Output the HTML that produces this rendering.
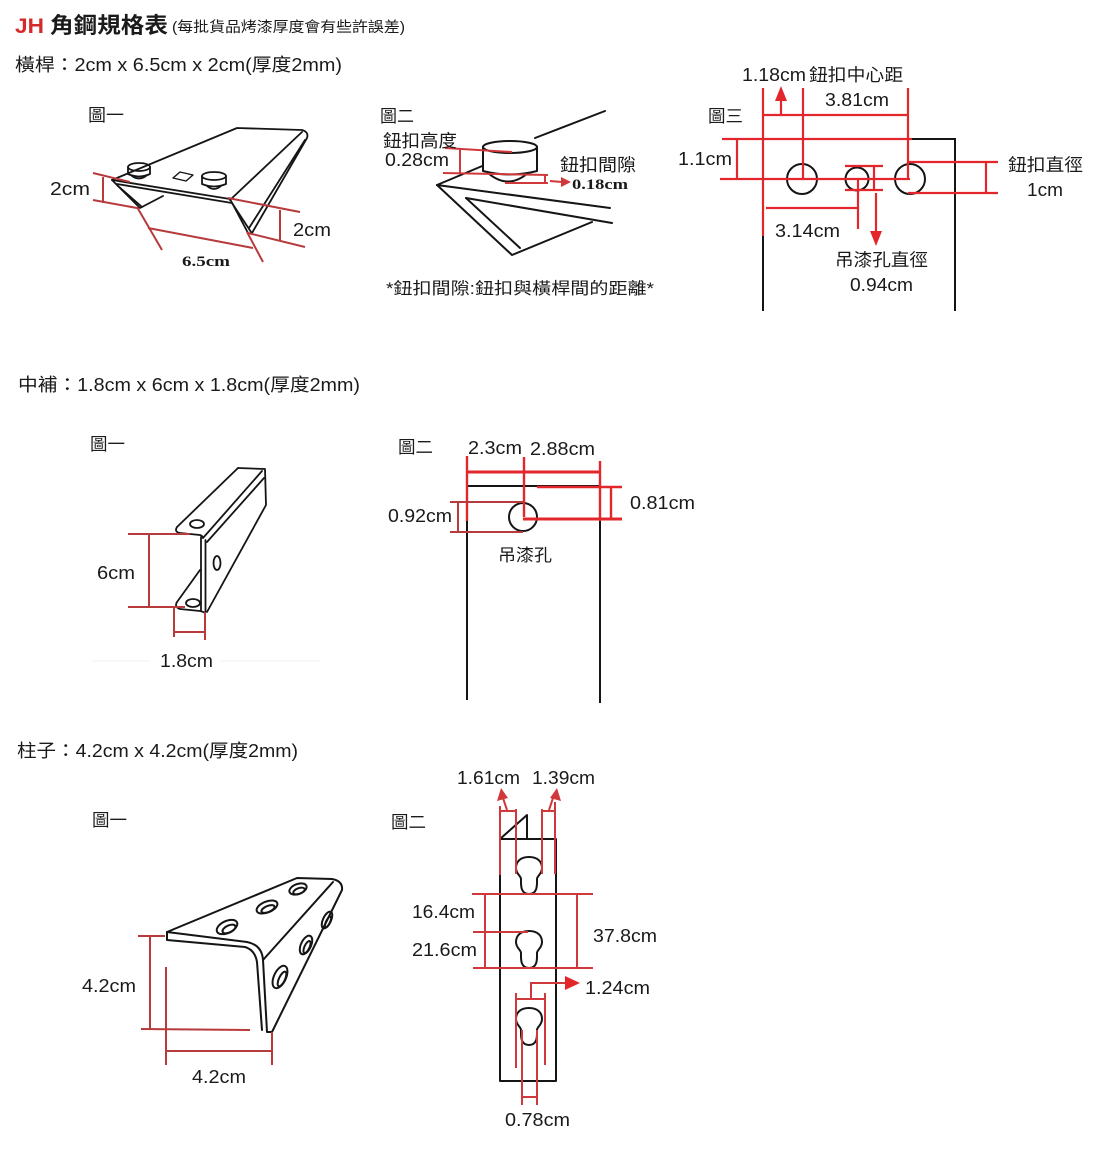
<!DOCTYPE html>
<html><head><meta charset="utf-8"><style>
html,body{margin:0;padding:0;background:#fff;}
svg{display:block}
text{font-family:"Liberation Sans","Noto Sans CJK TC",sans-serif;fill:#1a1a1a;}
</style></head><body>
<svg width="1101" height="1151" viewBox="0 0 1101 1151" xmlns="http://www.w3.org/2000/svg">
<rect width="1101" height="1151" fill="#fff"/>

<!-- ===== HEADER ===== -->
<text x="15" y="33" font-size="21" font-weight="bold" style="fill:#d42a2a" textLength="29" lengthAdjust="spacingAndGlyphs">JH</text>
<text x="50" y="33" font-size="22" font-weight="bold" textLength="118" lengthAdjust="spacingAndGlyphs">角鋼規格表</text>
<text x="172" y="32" font-size="14.5" textLength="233" lengthAdjust="spacingAndGlyphs">(每批貨品烤漆厚度會有些許誤差)</text>

<text x="15" y="71" font-size="18" textLength="327" lengthAdjust="spacingAndGlyphs">橫桿：2cm x 6.5cm x 2cm(厚度2mm)</text>

<!-- ===== TOP FIG 1 ===== -->
<text x="88" y="121" font-size="17" textLength="36" lengthAdjust="spacingAndGlyphs">圖一</text>
<g stroke="#151515" stroke-width="1.8" fill="none" stroke-linejoin="round" stroke-linecap="round">
  <path d="M112,180 L237,128 L302,130 Q309,132 307,138 L252,233"/>
  <path d="M302,132 L230,200"/>
  <path d="M305,140 L249,228"/>
  <path d="M112,180 L230,199 L248,233"/>
  <path d="M117,184 L232,203 L251,232"/>
  <path d="M112,180 L140,208 L163,196"/>
  <path d="M118,186 L142,207"/>
  <ellipse cx="139" cy="167" rx="11" ry="4"/>
  <path d="M128,167 V174 Q139,179 150,174 V167"/>
  <path d="M132,176 Q139,181 146,176"/>
  <ellipse cx="214" cy="176" rx="12" ry="4"/>
  <path d="M202,176 V184 Q214,189 226,184 V176"/>
  <path d="M207,186 Q214,192 221,186"/>
  <polygon points="180,172 193,175 186,181 173,178" stroke-width="1.4"/>
</g>
<g stroke="#b73a3c" stroke-width="2" fill="none">
  <line x1="93" y1="173" x2="130" y2="182"/>
  <line x1="93" y1="200" x2="137" y2="208"/>
  <line x1="103" y1="177" x2="103" y2="203"/>
  <line x1="137" y1="207" x2="162" y2="250"/>
  <line x1="247" y1="232" x2="263" y2="262"/>
  <line x1="148" y1="228" x2="253" y2="248"/>
  <line x1="228" y1="198" x2="300" y2="212"/>
  <line x1="248" y1="233" x2="305" y2="247"/>
  <line x1="280" y1="210" x2="280" y2="240"/>
</g>
<text x="50" y="195" font-size="18" textLength="40" lengthAdjust="spacingAndGlyphs">2cm</text>
<text x="293" y="236" font-size="18" textLength="38" lengthAdjust="spacingAndGlyphs">2cm</text>
<text x="182" y="266" font-size="15" font-weight="bold" style="font-family:'Liberation Serif',serif" textLength="48" lengthAdjust="spacingAndGlyphs">6.5cm</text>

<!-- ===== TOP FIG 2 ===== -->
<text x="380" y="122" font-size="17" textLength="34" lengthAdjust="spacingAndGlyphs">圖二</text>
<g stroke="#151515" stroke-width="2" fill="none" stroke-linejoin="round" stroke-linecap="round">
  <line x1="535" y1="138" x2="605" y2="111"/>
  <path d="M437,185 L487,164"/>
  <path d="M437,185 L610,208"/>
  <path d="M437,185 L512,255 L592,222"/>
  <path d="M466,198 L612,223"/>
  <path d="M466,198 L520,248"/>
  <path d="M483,147 V171 Q510,178 537,171 V147" fill="#fff"/>
  <ellipse cx="510" cy="147" rx="27" ry="6" fill="#fff"/>
  <path d="M488,173 Q508,190 528,173"/>
</g>
<g stroke="#d0393b" stroke-width="2" fill="none">
  <line x1="445" y1="148" x2="512" y2="152"/>
  <line x1="443" y1="173" x2="548" y2="175"/>
  <line x1="460" y1="149" x2="460" y2="174"/>
  <line x1="505" y1="183" x2="548" y2="183"/>
  <line x1="545" y1="174" x2="545" y2="184"/>
  <line x1="550" y1="181" x2="562" y2="182"/>
</g>
<polygon points="571,182 561,177 561,187" fill="#d0393b"/>
<text x="383" y="147" font-size="17.5" textLength="74" lengthAdjust="spacingAndGlyphs">鈕扣高度</text>
<text x="385" y="166" font-size="18" textLength="64" lengthAdjust="spacingAndGlyphs">0.28cm</text>
<text x="560" y="171" font-size="17.5" textLength="76" lengthAdjust="spacingAndGlyphs">鈕扣間隙</text>
<text x="572" y="189" font-size="15" font-weight="bold" style="font-family:'Liberation Serif',serif" textLength="56" lengthAdjust="spacingAndGlyphs">0.18cm</text>
<text x="386" y="294" font-size="16.5" textLength="268" lengthAdjust="spacingAndGlyphs">*鈕扣間隙:鈕扣與橫桿間的距離*</text>

<!-- ===== TOP FIG 3 ===== -->
<text x="708" y="122" font-size="17" textLength="35" lengthAdjust="spacingAndGlyphs">圖三</text>
<g stroke="#151515" stroke-width="2" fill="none">
  <path d="M763,311 V139 H955 V311"/>
  <circle cx="802" cy="179" r="15"/>
  <circle cx="857" cy="179" r="11.5"/>
  <circle cx="910" cy="179" r="15"/>
</g>
<g stroke="#e3262b" stroke-width="2.2" fill="none">
  <line x1="763" y1="88" x2="763" y2="236"/>
  <line x1="803" y1="88" x2="803" y2="179"/>
  <line x1="908" y1="88" x2="908" y2="179"/>
  <line x1="763" y1="115" x2="908" y2="115"/>
  <line x1="781" y1="115" x2="781" y2="98"/>
  <line x1="722" y1="139" x2="912" y2="139"/>
  <line x1="720" y1="179" x2="910" y2="179"/>
  <line x1="737" y1="139" x2="737" y2="179"/>
  <line x1="845" y1="166" x2="883" y2="166"/>
  <line x1="845" y1="190" x2="883" y2="190"/>
  <line x1="874" y1="166" x2="874" y2="190"/>
  <line x1="876" y1="193" x2="876" y2="234"/>
  <line x1="766" y1="208" x2="858" y2="208"/>
  <line x1="858" y1="179" x2="858" y2="229"/>
  <line x1="908" y1="162" x2="998" y2="162"/>
  <line x1="908" y1="193" x2="998" y2="193"/>
  <line x1="986" y1="162" x2="986" y2="193"/>
</g>
<polygon points="781,86 775,101 787,101" fill="#e3262b"/>
<polygon points="876,246 870,231 882,231" fill="#e3262b"/>
<text x="742" y="81" font-size="18" textLength="64" lengthAdjust="spacingAndGlyphs">1.18cm</text>
<text x="809" y="81" font-size="17.5" textLength="94" lengthAdjust="spacingAndGlyphs">鈕扣中心距</text>
<text x="825" y="106" font-size="18" textLength="64" lengthAdjust="spacingAndGlyphs">3.81cm</text>
<text x="678" y="165" font-size="18" textLength="54" lengthAdjust="spacingAndGlyphs">1.1cm</text>
<text x="1008" y="171" font-size="17.5" textLength="75" lengthAdjust="spacingAndGlyphs">鈕扣直徑</text>
<text x="1027" y="196" font-size="18" textLength="36" lengthAdjust="spacingAndGlyphs">1cm</text>
<text x="775" y="237" font-size="18" textLength="65" lengthAdjust="spacingAndGlyphs">3.14cm</text>
<text x="835" y="266" font-size="17.5" textLength="93" lengthAdjust="spacingAndGlyphs">吊漆孔直徑</text>
<text x="850" y="291" font-size="18" textLength="63" lengthAdjust="spacingAndGlyphs">0.94cm</text>

<!-- ===== MIDDLE ===== -->
<text x="18" y="391" font-size="18" textLength="342" lengthAdjust="spacingAndGlyphs">中補：1.8cm x 6cm x 1.8cm(厚度2mm)</text>
<text x="90" y="450" font-size="17" textLength="35" lengthAdjust="spacingAndGlyphs">圖一</text>
<g stroke="#151515" stroke-width="1.8" fill="none" stroke-linejoin="round" stroke-linecap="round">
  <path d="M238,468 L265,469 L266,505 L207,612"/>
  <path d="M238,468 L177,527 Q174,532 180,533 L200,535 Q203,536 203,538"/>
  <path d="M262,471 L203,538"/>
  <path d="M264,478 L207,542"/>
  <ellipse cx="197" cy="524" rx="7" ry="4"/>
  <line x1="201" y1="537" x2="201" y2="610"/>
  <line x1="205.5" y1="540" x2="205.5" y2="612"/>
  <ellipse cx="217" cy="563" rx="3.5" ry="7"/>
  <path d="M200,570 L177,602 Q174,607 180,609 L200,611 Q204,612 205,613"/>
  <ellipse cx="193" cy="603" rx="7" ry="4"/>
</g>
<g stroke="#b73a3c" stroke-width="2" fill="none">
  <line x1="128" y1="534" x2="190" y2="534"/>
  <line x1="128" y1="607" x2="185" y2="607"/>
  <line x1="149" y1="534" x2="149" y2="607"/>
  <line x1="174" y1="607" x2="174" y2="637"/>
  <line x1="205" y1="612" x2="205" y2="640"/>
  <line x1="174" y1="632" x2="205" y2="632"/>
</g>
<line x1="92" y1="661" x2="150" y2="661" stroke="#f0f0f0" stroke-width="1"/>
<line x1="220" y1="661" x2="320" y2="661" stroke="#f0f0f0" stroke-width="1"/>
<text x="97" y="579" font-size="18" textLength="38" lengthAdjust="spacingAndGlyphs">6cm</text>
<text x="160" y="667" font-size="18" textLength="53" lengthAdjust="spacingAndGlyphs">1.8cm</text>

<text x="398" y="453" font-size="17" textLength="35" lengthAdjust="spacingAndGlyphs">圖二</text>
<g stroke="#151515" stroke-width="2" fill="none">
  <path d="M467,700 V486 H600 V703"/>
  <circle cx="523" cy="517" r="14"/>
</g>
<g stroke="#e3262b" stroke-width="2.4" fill="none">
  <line x1="467" y1="456" x2="467" y2="521"/>
  <line x1="524" y1="457" x2="524" y2="517"/>
  <line x1="600" y1="461" x2="600" y2="521"/>
  <line x1="467" y1="472" x2="601" y2="472" stroke-width="3"/>
  <line x1="537" y1="487" x2="622" y2="487"/>
  <line x1="523" y1="519" x2="622" y2="519" stroke-width="3"/>
  <line x1="611" y1="487" x2="611" y2="519"/>
</g>
<g stroke="#b73a3c" stroke-width="2" fill="none">
  <line x1="450" y1="502" x2="523" y2="502"/>
  <line x1="450" y1="532" x2="523" y2="532"/>
  <line x1="458" y1="502" x2="458" y2="532"/>
</g>
<text x="468" y="454" font-size="18" textLength="54" lengthAdjust="spacingAndGlyphs">2.3cm</text>
<text x="530" y="455" font-size="18" textLength="65" lengthAdjust="spacingAndGlyphs">2.88cm</text>
<text x="630" y="509" font-size="18" textLength="65" lengthAdjust="spacingAndGlyphs">0.81cm</text>
<text x="388" y="522" font-size="18" textLength="64" lengthAdjust="spacingAndGlyphs">0.92cm</text>
<text x="498" y="561" font-size="17" textLength="54" lengthAdjust="spacingAndGlyphs">吊漆孔</text>

<!-- ===== BOTTOM ===== -->
<text x="17" y="757" font-size="18" textLength="281" lengthAdjust="spacingAndGlyphs">柱子：4.2cm x 4.2cm(厚度2mm)</text>
<text x="92" y="826" font-size="17" textLength="35" lengthAdjust="spacingAndGlyphs">圖一</text>
<g stroke="#151515" stroke-width="2" fill="none" stroke-linejoin="round" stroke-linecap="round">
  <path d="M167,932 L297,878 L332,879 Q343,881 342,890 L272,1032"/>
  <path d="M333,882 L263,960"/>
  <path d="M167,932 L247,942 Q262,945 263,960 L267,1032 L272,1032"/>
  <path d="M167,932 L167,940 L245,947 Q255,950 257,962 L262,1030"/>
  <ellipse cx="227" cy="927" rx="11" ry="6" transform="rotate(-25 227 927)"/>
  <ellipse cx="229" cy="929" rx="7" ry="3.5" transform="rotate(-25 229 929)"/>
  <ellipse cx="267" cy="907" rx="11" ry="5.5" transform="rotate(-22 267 907)"/>
  <ellipse cx="268" cy="909" rx="7" ry="3" transform="rotate(-22 268 909)"/>
  <ellipse cx="298" cy="889" rx="9" ry="5" transform="rotate(-20 298 889)"/>
  <ellipse cx="299" cy="891" rx="6" ry="2.8" transform="rotate(-20 299 891)"/>
  <ellipse cx="280" cy="977" rx="6" ry="12" transform="rotate(25 280 977)"/>
  <ellipse cx="282" cy="979" rx="3" ry="8" transform="rotate(25 282 979)"/>
  <ellipse cx="306" cy="945" rx="5" ry="10" transform="rotate(25 306 945)"/>
  <ellipse cx="307" cy="947" rx="2.5" ry="6.5" transform="rotate(25 307 947)"/>
  <ellipse cx="327" cy="920" rx="4" ry="9" transform="rotate(25 327 920)"/>
  <ellipse cx="328" cy="922" rx="2" ry="6" transform="rotate(25 328 922)"/>
</g>
<g stroke="#b73a3c" stroke-width="2" fill="none">
  <line x1="138" y1="936" x2="165" y2="936"/>
  <line x1="141" y1="1029" x2="250" y2="1030"/>
  <line x1="150" y1="936" x2="150" y2="1029"/>
  <line x1="166" y1="967" x2="166" y2="1065"/>
  <line x1="272" y1="1032" x2="272" y2="1065"/>
  <line x1="166" y1="1051" x2="272" y2="1051"/>
</g>
<text x="82" y="992" font-size="18" textLength="54" lengthAdjust="spacingAndGlyphs">4.2cm</text>
<text x="192" y="1083" font-size="18" textLength="54" lengthAdjust="spacingAndGlyphs">4.2cm</text>

<text x="391" y="828" font-size="17" textLength="35" lengthAdjust="spacingAndGlyphs">圖二</text>
<g stroke="#151515" stroke-width="2" fill="none" stroke-linejoin="round">
  <path d="M500,1081 V839 H556 V1081 Z"/>
  <path d="M500,839 L527,815 L527,839"/>
  <path d="M529,857 C538,857 542,862 542,868 C542,874 537,876 537,879 C537,884 538,894 529,894 C520,894 521,884 521,879 C521,876 516,874 516,868 C516,862 520,857 529,857 Z"/>
  <path d="M529,931 C538,931 542,936 542,942 C542,948 537,950 537,953 C537,958 538,968 529,968 C520,968 521,958 521,953 C521,950 516,948 516,942 C516,936 520,931 529,931 Z"/>
  <path d="M529,1008 C538,1008 542,1013 542,1019 C542,1025 537,1027 537,1030 C537,1035 538,1045 529,1045 C520,1045 521,1035 521,1030 C521,1027 516,1025 516,1019 C516,1013 520,1008 529,1008 Z"/>
</g>
<g stroke="#d0393b" stroke-width="2" fill="none">
  <line x1="500" y1="806" x2="500" y2="875"/>
  <line x1="516" y1="809" x2="516" y2="874"/>
  <line x1="542" y1="809" x2="542" y2="874"/>
  <line x1="555" y1="802" x2="555" y2="874"/>
  <line x1="500" y1="811" x2="516" y2="811"/>
  <line x1="542" y1="811" x2="555" y2="811"/>
  <line x1="507" y1="810" x2="503" y2="798"/>
  <line x1="549" y1="810" x2="553" y2="798"/>
  <line x1="472" y1="894" x2="593" y2="894"/>
  <line x1="473" y1="968" x2="593" y2="968"/>
  <line x1="473" y1="932" x2="528" y2="932"/>
  <line x1="485" y1="894" x2="485" y2="968"/>
  <line x1="577" y1="894" x2="577" y2="968"/>
  <path d="M531,999 V983 H567"/>
  <line x1="516" y1="999" x2="545" y2="999"/>
  <line x1="516" y1="993" x2="516" y2="1068"/>
  <line x1="545" y1="993" x2="545" y2="1065"/>
  <line x1="522" y1="1030" x2="522" y2="1105"/>
  <line x1="537" y1="1030" x2="537" y2="1105"/>
  <line x1="522" y1="1097" x2="537" y2="1097"/>
</g>
<polygon points="501,788 497,801 508,798" fill="#d0393b"/>
<polygon points="557,788 550,798 561,801" fill="#d0393b"/>
<polygon points="580,983 565,976 565,990" fill="#e3262b"/>
<text x="457" y="784" font-size="18" textLength="63" lengthAdjust="spacingAndGlyphs">1.61cm</text>
<text x="532" y="784" font-size="18" textLength="63" lengthAdjust="spacingAndGlyphs">1.39cm</text>
<text x="412" y="918" font-size="18" textLength="63" lengthAdjust="spacingAndGlyphs">16.4cm</text>
<text x="412" y="956" font-size="18" textLength="65" lengthAdjust="spacingAndGlyphs">21.6cm</text>
<text x="593" y="942" font-size="18" textLength="64" lengthAdjust="spacingAndGlyphs">37.8cm</text>
<text x="585" y="994" font-size="18" textLength="65" lengthAdjust="spacingAndGlyphs">1.24cm</text>
<text x="505" y="1126" font-size="18" textLength="65" lengthAdjust="spacingAndGlyphs">0.78cm</text>
</svg>
</body></html>
